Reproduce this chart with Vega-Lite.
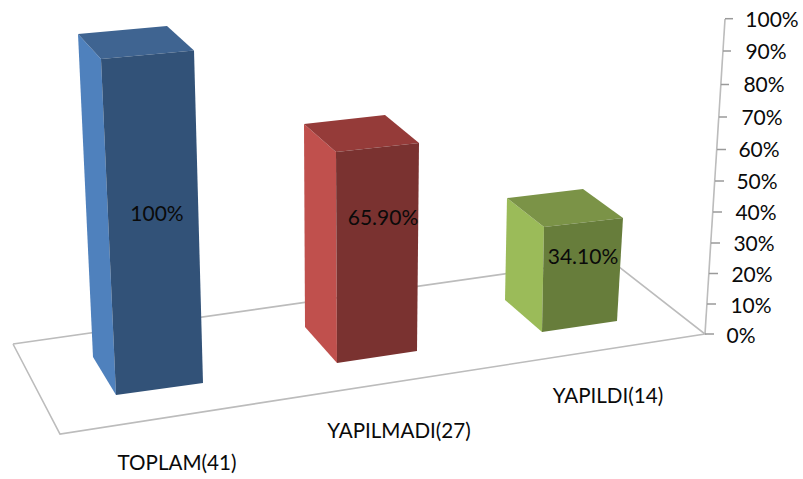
{
  "$schema": "https://vega.github.io/schema/vega-lite/v6.json",
  "width": 803,
  "height": 479,
  "autosize": {"type": "fit", "contains": "padding"},
  "padding": 0,
  "background": "white",
  "config": {"view": {"stroke": null}},
  "datasets": {
    "frame": [
      {"part": "floor", "step": 1, "px": 13, "py": 344},
      {"part": "floor", "step": 2, "px": 60, "py": 434},
      {"part": "floor", "step": 3, "px": 705, "py": 334},
      {"part": "floor", "step": 4, "px": 609, "py": 259},
      {"part": "floor", "step": 5, "px": 13, "py": 344},
      {"part": "wall", "step": 1, "px": 705, "py": 334},
      {"part": "wall", "step": 2, "px": 725, "py": 19}
    ],
    "ticks": [
      {"label": "0%", "px": 705, "px2": 714, "py": 334, "lx": 741, "ly": 336},
      {"label": "10%", "px": 707, "px2": 716, "py": 304, "lx": 751, "ly": 306},
      {"label": "20%", "px": 709, "px2": 718, "py": 273.5, "lx": 752, "ly": 275},
      {"label": "30%", "px": 711, "px2": 720, "py": 243, "lx": 754, "ly": 244},
      {"label": "40%", "px": 713, "px2": 722, "py": 212, "lx": 756, "ly": 213},
      {"label": "50%", "px": 715, "px2": 724, "py": 181, "lx": 757, "ly": 182},
      {"label": "60%", "px": 717, "px2": 726, "py": 149.5, "lx": 759, "ly": 150},
      {"label": "70%", "px": 719, "px2": 727, "py": 117, "lx": 762, "ly": 118},
      {"label": "80%", "px": 721, "px2": 729, "py": 84.5, "lx": 764, "ly": 85},
      {"label": "90%", "px": 723, "px2": 731, "py": 51, "lx": 766, "ly": 52},
      {"label": "100%", "px": 725, "px2": 733, "py": 18.7, "lx": 772, "ly": 20}
    ],
    "faces": [
      {"bar": "TOPLAM(41)", "value": 100, "face": "TOPLAM side", "step": 1, "px": 78, "py": 34},
      {"bar": "TOPLAM(41)", "value": 100, "face": "TOPLAM side", "step": 2, "px": 101, "py": 59},
      {"bar": "TOPLAM(41)", "value": 100, "face": "TOPLAM side", "step": 3, "px": 116, "py": 395},
      {"bar": "TOPLAM(41)", "value": 100, "face": "TOPLAM side", "step": 4, "px": 93, "py": 357},
      {"bar": "TOPLAM(41)", "value": 100, "face": "TOPLAM side", "step": 5, "px": 78, "py": 34},
      {"bar": "TOPLAM(41)", "value": 100, "face": "TOPLAM top", "step": 1, "px": 78, "py": 34},
      {"bar": "TOPLAM(41)", "value": 100, "face": "TOPLAM top", "step": 2, "px": 167, "py": 26},
      {"bar": "TOPLAM(41)", "value": 100, "face": "TOPLAM top", "step": 3, "px": 194, "py": 50.5},
      {"bar": "TOPLAM(41)", "value": 100, "face": "TOPLAM top", "step": 4, "px": 101, "py": 59},
      {"bar": "TOPLAM(41)", "value": 100, "face": "TOPLAM top", "step": 5, "px": 78, "py": 34},
      {"bar": "TOPLAM(41)", "value": 100, "face": "TOPLAM front", "step": 1, "px": 101, "py": 59},
      {"bar": "TOPLAM(41)", "value": 100, "face": "TOPLAM front", "step": 2, "px": 194, "py": 50.5},
      {"bar": "TOPLAM(41)", "value": 100, "face": "TOPLAM front", "step": 3, "px": 203, "py": 383},
      {"bar": "TOPLAM(41)", "value": 100, "face": "TOPLAM front", "step": 4, "px": 116, "py": 395},
      {"bar": "TOPLAM(41)", "value": 100, "face": "TOPLAM front", "step": 5, "px": 101, "py": 59},
      {"bar": "YAPILMADI(27)", "value": 65.9, "face": "YAPILMADI side", "step": 1, "px": 304, "py": 124},
      {"bar": "YAPILMADI(27)", "value": 65.9, "face": "YAPILMADI side", "step": 2, "px": 336, "py": 152},
      {"bar": "YAPILMADI(27)", "value": 65.9, "face": "YAPILMADI side", "step": 3, "px": 337, "py": 363},
      {"bar": "YAPILMADI(27)", "value": 65.9, "face": "YAPILMADI side", "step": 4, "px": 305, "py": 327},
      {"bar": "YAPILMADI(27)", "value": 65.9, "face": "YAPILMADI side", "step": 5, "px": 304, "py": 124},
      {"bar": "YAPILMADI(27)", "value": 65.9, "face": "YAPILMADI top", "step": 1, "px": 304, "py": 124},
      {"bar": "YAPILMADI(27)", "value": 65.9, "face": "YAPILMADI top", "step": 2, "px": 385, "py": 115},
      {"bar": "YAPILMADI(27)", "value": 65.9, "face": "YAPILMADI top", "step": 3, "px": 419, "py": 143},
      {"bar": "YAPILMADI(27)", "value": 65.9, "face": "YAPILMADI top", "step": 4, "px": 336, "py": 152},
      {"bar": "YAPILMADI(27)", "value": 65.9, "face": "YAPILMADI top", "step": 5, "px": 304, "py": 124},
      {"bar": "YAPILMADI(27)", "value": 65.9, "face": "YAPILMADI front", "step": 1, "px": 336, "py": 152},
      {"bar": "YAPILMADI(27)", "value": 65.9, "face": "YAPILMADI front", "step": 2, "px": 419, "py": 143},
      {"bar": "YAPILMADI(27)", "value": 65.9, "face": "YAPILMADI front", "step": 3, "px": 417, "py": 351},
      {"bar": "YAPILMADI(27)", "value": 65.9, "face": "YAPILMADI front", "step": 4, "px": 337, "py": 363},
      {"bar": "YAPILMADI(27)", "value": 65.9, "face": "YAPILMADI front", "step": 5, "px": 336, "py": 152},
      {"bar": "YAPILDI(14)", "value": 34.1, "face": "YAPILDI side", "step": 1, "px": 507, "py": 198},
      {"bar": "YAPILDI(14)", "value": 34.1, "face": "YAPILDI side", "step": 2, "px": 544, "py": 227},
      {"bar": "YAPILDI(14)", "value": 34.1, "face": "YAPILDI side", "step": 3, "px": 542, "py": 332},
      {"bar": "YAPILDI(14)", "value": 34.1, "face": "YAPILDI side", "step": 4, "px": 505, "py": 300},
      {"bar": "YAPILDI(14)", "value": 34.1, "face": "YAPILDI side", "step": 5, "px": 507, "py": 198},
      {"bar": "YAPILDI(14)", "value": 34.1, "face": "YAPILDI top", "step": 1, "px": 507, "py": 198},
      {"bar": "YAPILDI(14)", "value": 34.1, "face": "YAPILDI top", "step": 2, "px": 583, "py": 189},
      {"bar": "YAPILDI(14)", "value": 34.1, "face": "YAPILDI top", "step": 3, "px": 623, "py": 218},
      {"bar": "YAPILDI(14)", "value": 34.1, "face": "YAPILDI top", "step": 4, "px": 544, "py": 227},
      {"bar": "YAPILDI(14)", "value": 34.1, "face": "YAPILDI top", "step": 5, "px": 507, "py": 198},
      {"bar": "YAPILDI(14)", "value": 34.1, "face": "YAPILDI front", "step": 1, "px": 544, "py": 227},
      {"bar": "YAPILDI(14)", "value": 34.1, "face": "YAPILDI front", "step": 2, "px": 623, "py": 218},
      {"bar": "YAPILDI(14)", "value": 34.1, "face": "YAPILDI front", "step": 3, "px": 617, "py": 321},
      {"bar": "YAPILDI(14)", "value": 34.1, "face": "YAPILDI front", "step": 4, "px": 542, "py": 332},
      {"bar": "YAPILDI(14)", "value": 34.1, "face": "YAPILDI front", "step": 5, "px": 544, "py": 227}
    ],
    "labels": [
      {"bar": "TOPLAM(41)", "text": "100%", "vx": 157, "vy": 214, "cx": 177, "cy": 463},
      {"bar": "YAPILMADI(27)", "text": "65.90%", "vx": 383, "vy": 218, "cx": 399, "cy": 431},
      {"bar": "YAPILDI(14)", "text": "34.10%", "vx": 583, "vy": 257, "cx": 608, "cy": 396}
    ]
  },
  "encoding": {
    "x": {"field": "px", "type": "quantitative", "scale": {"domain": [0, 803]}, "axis": null},
    "y": {"field": "py", "type": "quantitative", "scale": {"domain": [479, 0]}, "axis": null}
  },
  "layer": [
    {
      "data": {"name": "frame"},
      "mark": {"type": "line", "stroke": "#bcbcbc", "strokeWidth": 1.6, "clip": false},
      "encoding": {
        "detail": {"field": "part"},
        "order": {"field": "step", "type": "quantitative"}
      }
    },
    {
      "data": {"name": "ticks"},
      "mark": {"type": "rule", "stroke": "#9a9a9a", "strokeWidth": 1.5},
      "encoding": {"x2": {"field": "px2"}}
    },
    {
      "data": {"name": "ticks"},
      "mark": {"type": "text", "font": "Lato", "fontSize": 21, "dy": 1, "fill": "#0a0a0a", "align": "center", "baseline": "middle"},
      "encoding": {
        "x": {"field": "lx", "type": "quantitative", "scale": {"domain": [0, 803]}, "axis": null},
        "y": {"field": "ly", "type": "quantitative", "scale": {"domain": [479, 0]}, "axis": null},
        "text": {"field": "label"}
      }
    },
    {
      "data": {"name": "faces"},
      "mark": {"type": "line", "strokeWidth": 0, "interpolate": "linear"},
      "encoding": {
        "detail": {"field": "face"},
        "order": {"field": "step", "type": "quantitative"},
        "fill": {
          "field": "face",
          "type": "nominal",
          "legend": null,
          "scale": {
            "domain": ["TOPLAM side", "TOPLAM top", "TOPLAM front", "YAPILMADI side", "YAPILMADI top", "YAPILMADI front", "YAPILDI side", "YAPILDI top", "YAPILDI front"],
            "range": ["#4f81bd", "#3f6491", "#325278", "#c0504d", "#953b39", "#7a3230", "#9bbb59", "#7b9347", "#677d3b"]
          }
        }
      }
    },
    {
      "data": {"name": "labels"},
      "mark": {"type": "text", "font": "Lato", "fontSize": 21, "dy": 1, "fill": "#0a0a0a", "align": "center", "baseline": "middle"},
      "encoding": {
        "x": {"field": "vx", "type": "quantitative", "scale": {"domain": [0, 803]}, "axis": null},
        "y": {"field": "vy", "type": "quantitative", "scale": {"domain": [479, 0]}, "axis": null},
        "text": {"field": "text"}
      }
    },
    {
      "data": {"name": "labels"},
      "mark": {"type": "text", "font": "Lato", "fontSize": 20.6, "dy": 1, "fill": "#0a0a0a", "align": "center", "baseline": "middle"},
      "encoding": {
        "x": {"field": "cx", "type": "quantitative", "scale": {"domain": [0, 803]}, "axis": null},
        "y": {"field": "cy", "type": "quantitative", "scale": {"domain": [479, 0]}, "axis": null},
        "text": {"field": "bar"}
      }
    }
  ]
}
